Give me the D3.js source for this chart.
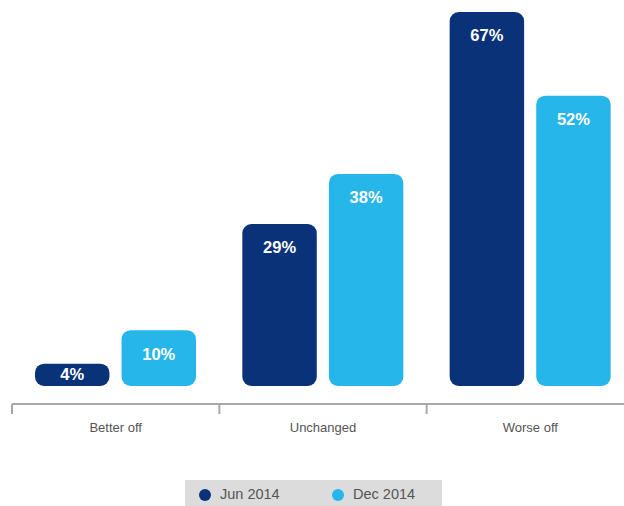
<!DOCTYPE html>
<html>
<head>
<meta charset="utf-8">
<script src="https://cdn.jsdelivr.net/npm/d3@7"></script>
<style>
  html, body { margin: 0; padding: 0; background: #fff; }
  svg { display: block; font-family: "Liberation Sans", Arial, Helvetica, sans-serif; }
</style>
</head>
<body>
<svg id="chart" width="624" height="506"></svg>
<script>
// Outlook categories and the share of respondents per survey wave
const categories = ["Better off", "Unchanged", "Worse off"];
const seriesNames = ["Jun 2014", "Dec 2014"];
const jun2014 = [4, 29, 67];
const dec2014 = [10, 38, 52];
const seriesColors = ["#0a3278", "#27b6e9"];

const svg = d3.select("#chart");
const baseY = 386;      // bottom of the bars
const axisY = 404;      // horizontal axis line

const x0 = d3.scaleBand().domain(categories).range([12, 634]).paddingInner(0).paddingOuter(0);
const x1 = d3.scaleBand().domain(seriesNames).range([23, 184]).paddingInner(0.14);
const y = d3.scaleLinear().domain([0, 67]).range([baseY, 12]);

const rows = categories.map((c, i) => ({
  category: c,
  values: [jun2014[i], dec2014[i]].map((v, j) => ({ series: seriesNames[j], value: v, color: seriesColors[j] }))
}));

const groups = svg.selectAll("g.group").data(rows).join("g")
  .attr("class", "group")
  .attr("transform", d => `translate(${x0(d.category)},0)`);

groups.selectAll("rect").data(d => d.values).join("rect")
  .attr("x", d => x1(d.series))
  .attr("y", d => y(d.value))
  .attr("width", x1.bandwidth())
  .attr("height", d => baseY - y(d.value))
  .attr("rx", 9).attr("ry", 9)
  .attr("fill", d => d.color);

groups.selectAll("text.val").data(d => d.values).join("text")
  .attr("class", "val")
  .attr("x", d => x1(d.series) + x1.bandwidth() / 2)
  .attr("y", d => Math.min(y(d.value) + 24, (y(d.value) + baseY) / 2) + 1)
  .attr("text-anchor", "middle")
  .attr("dominant-baseline", "middle")
  .attr("fill", "#fff")
  .attr("font-weight", "bold")
  .attr("font-size", 16.5)
  .text(d => d.value + "%");

// Category axis with ticks at the band boundaries
const axisG = svg.append("g");
axisG.append("line")
  .attr("x1", 12).attr("x2", 624)
  .attr("y1", axisY).attr("y2", axisY)
  .attr("stroke", "#a8a8ab").attr("stroke-width", 2);
const boundaries = categories.map(c => x0(c));
axisG.selectAll("line.tick").data(boundaries).join("line")
  .attr("class", "tick")
  .attr("x1", d => d).attr("x2", d => d)
  .attr("y1", axisY).attr("y2", axisY + 10)
  .attr("stroke", "#a8a8ab").attr("stroke-width", 2);
axisG.selectAll("text.cat").data(categories).join("text")
  .attr("class", "cat")
  .attr("x", d => x0(d) + x0.bandwidth() / 2)
  .attr("y", 429)
  .attr("text-anchor", "middle")
  .attr("dominant-baseline", "middle")
  .attr("fill", "#555")
  .attr("font-size", 13)
  .text(d => d);

// Legend
const legend = svg.append("g");
legend.append("rect")
  .attr("x", 185).attr("y", 480).attr("width", 257).attr("height", 26)
  .attr("fill", "#dcdcdd");
const legendX = [205, 338];
const items = legend.selectAll("g.item").data(seriesNames).join("g")
  .attr("class", "item")
  .attr("transform", (d, i) => `translate(${legendX[i]},495)`);
items.append("circle").attr("r", 6).attr("fill", (d, i) => seriesColors[i]);
items.append("text")
  .attr("x", 15).attr("y", 0)
  .attr("dominant-baseline", "middle")
  .attr("fill", "#555")
  .attr("font-size", 14.5)
  .text(d => d);
</script>
</body>
</html>
